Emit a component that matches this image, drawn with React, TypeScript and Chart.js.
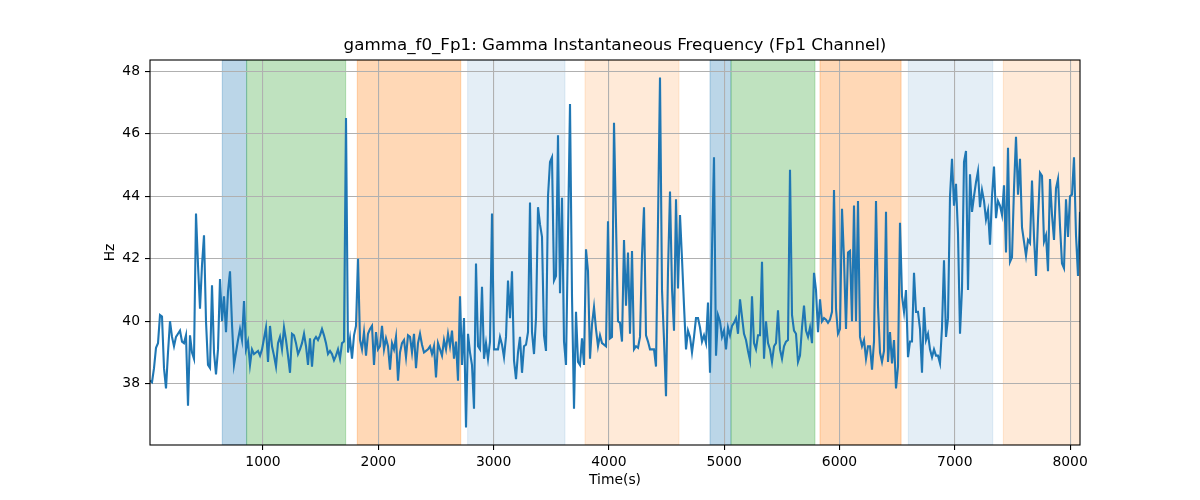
import { useEffect, useRef } from 'react';
import { Chart, registerables } from 'chart.js';

Chart.register(...registerables);

const chartTitle = 'gamma_f0_Fp1: Gamma Instantaneous Frequency (Fp1 Channel)';
const xLabel = 'Time(s)';
const yLabel = 'Hz';

// samples are evenly spaced in time
const timeStart = 20;
const timeStep = 17.346;

const hzPart1 = [
  38.1, 38.05, 38.5, 39.15, 39.3, 40.2, 40.15, 38.5, 37.85, 39.0, 40.0, 39.5, 39.2, 39.5, 39.6, 39.7,
  39.35, 39.3, 39.55, 37.3, 39.55, 39.0, 38.8, 43.45, 41.8, 40.4, 41.8, 42.75, 40.0, 38.6, 38.5, 41.15,
  39.0, 38.3, 39.1, 41.35, 40.0, 40.8, 39.65, 40.95, 41.6, 39.9, 38.6, 39.0, 39.4, 39.75, 39.4, 40.65,
  39.1, 39.35, 38.6, 39.1, 38.95, 39.0, 39.05, 38.9, 39.1, 39.45, 39.8, 38.7, 39.85, 39.2, 38.9, 38.55,
  39.3, 39.5, 39.1, 39.8, 39.4, 38.9, 38.35, 39.6, 39.55, 39.3, 38.95, 39.1, 39.3, 39.6,
];
const hzPart2 = [
  39.2, 38.6, 39.45, 38.55, 39.4, 39.5, 39.4, 39.55, 39.75, 39.55, 39.3, 38.95, 39.05, 38.95, 38.75, 38.9,
  39.1, 38.8, 39.3, 39.35, 46.5, 39.0, 39.45, 38.8, 39.55, 39.85, 42.0, 39.4, 39.1, 39.65, 38.9, 39.6,
  39.75, 39.85, 38.6, 39.65, 39.1, 39.2, 39.85, 39.1, 39.45, 39.2, 38.45, 39.3, 39.1, 39.5, 38.1, 39.0,
  39.3, 39.4, 38.85, 39.55, 39.5, 39.0, 39.6, 38.5, 39.3, 39.6, 39.25, 39.0, 39.05, 39.1, 39.2, 38.95,
  39.2, 38.2, 39.3, 39.1, 38.9, 39.4, 39.1, 39.6, 39.2, 39.7, 38.8, 39.35, 38.1,
];
const hzPart3 = [
  40.8, 38.6, 40.1, 36.6, 39.6, 39.0, 38.6, 37.2, 41.85, 39.2, 39.1, 41.1, 38.8, 39.3, 38.8, 39.35,
  43.45, 39.1, 39.1, 39.1, 39.5, 39.25, 38.85, 39.5, 41.3, 40.1, 41.6, 38.75, 38.15, 39.0, 39.5, 38.35,
  39.2, 39.25, 39.65, 43.8, 39.65, 38.95, 40.1, 43.65, 43.1, 42.7, 39.55, 39.05, 44.0, 45.1, 45.25, 41.3,
  41.45, 45.95, 40.9, 43.95, 39.35, 38.6, 42.75, 46.95, 40.8, 37.2, 40.3, 38.7, 38.6, 39.45, 38.6, 42.3,
  41.6, 38.8, 39.9, 40.45, 39.75, 39.2, 39.55, 39.3, 39.25, 39.2, 43.2, 39.45, 39.5, 46.35,
];
const hzPart4 = [
  43.15, 40.0, 39.95, 39.35, 42.6, 40.5, 42.2, 39.6, 42.25, 39.1, 39.2, 39.15, 39.5, 42.1, 43.65, 39.55,
  39.35, 39.1, 39.1, 39.1, 38.55, 43.15, 47.8, 41.0, 39.4, 37.6, 41.6, 44.15, 41.05, 39.7, 43.9, 41.05,
  43.4, 42.0, 40.5, 39.1, 39.7, 39.5, 39.0, 39.5, 40.1, 40.1, 39.8, 39.35, 39.55, 39.3, 40.6, 38.35,
  42.3, 45.25, 38.9, 40.2, 40.0, 39.5, 39.7, 39.1, 39.8, 39.55, 39.85, 39.95, 40.1, 39.6, 40.7, 40.15,
  39.6, 39.4, 39.05, 38.75, 40.8, 39.3, 39.1, 39.55, 39.55, 41.9, 38.8, 40.0, 39.3,
];
const hzPart5 = [
  39.1, 38.7, 39.2, 39.3, 40.35, 39.1, 38.8, 39.2, 39.35, 39.4, 44.85, 40.2, 39.7, 39.6, 38.7, 38.9,
  39.8, 40.5, 39.7, 39.5, 39.8, 39.3, 41.55, 41.0, 39.65, 40.7, 40.0, 40.1, 40.05, 39.95, 40.05, 40.3,
  44.2, 40.4, 39.6, 39.75, 43.6, 42.0, 39.75, 42.2, 42.25, 40.0, 43.7, 40.0, 43.85, 39.5, 39.2, 39.4,
  38.8, 39.2, 39.2, 38.45, 39.35, 43.85, 40.5, 39.0, 38.7, 39.05, 43.5, 38.7, 39.65, 38.65, 39.4, 37.85,
  38.55, 43.15, 40.8, 40.3, 41.0, 38.85, 39.35, 39.35, 41.55, 40.3, 40.3, 39.75, 38.35, 40.45,
];
const hzPart6 = [
  39.4, 39.6, 39.1, 38.85, 39.1, 38.9, 38.9, 38.65, 39.8, 41.95, 39.5, 40.1, 44.0, 45.2, 43.7, 44.4,
  42.8, 39.6, 41.05, 45.1, 45.45, 41.0, 44.7, 43.5, 44.0, 44.45, 44.8, 43.65, 44.2, 43.85, 43.25, 43.55,
  42.45, 44.0, 44.95, 43.3, 43.85, 43.7, 43.4, 44.35, 42.2, 45.55, 41.9, 42.05, 44.25, 45.9, 44.05, 45.2,
  43.0, 42.55, 42.1, 42.6, 42.5, 44.5, 42.7, 41.45, 43.25, 44.75, 44.65, 42.55, 42.75, 41.6, 44.55, 43.4,
  42.6, 44.25, 44.55, 43.05, 41.85, 41.7, 43.9, 42.7, 44.0, 44.05, 45.25, 42.75, 41.45, 43.5,
];

const frequencyHz = [...hzPart1, ...hzPart2, ...hzPart3, ...hzPart4, ...hzPart5, ...hzPart6];

// shaded intervals (time), and which of the five kinds each one is
const bandStart = [647, 858, 1818, 2775, 3793, 4877, 5059, 5831, 6597, 7421];
const bandEnd = [858, 1717, 2715, 3619, 4608, 5059, 5787, 6534, 7329, 8100];
const bandKind = [0, 1, 2, 3, 4, 0, 1, 2, 3, 4];

const xTickValues = [1000, 2000, 3000, 4000, 5000, 6000, 7000, 8000];
const yTickValues = [38, 40, 42, 44, 46, 48];

const bandFills = [
  'rgba(31, 119, 180, 0.3)',
  'rgba(44, 160, 44, 0.3)',
  'rgba(255, 127, 14, 0.3)',
  'rgba(31, 119, 180, 0.12)',
  'rgba(255, 127, 14, 0.16)',
];

const FONT = 'DejaVu Sans';

const bandsPlugin = {
  id: 'bands',
  beforeDraw(chart: any) {
    const { ctx, chartArea, scales } = chart;
    const x = scales.x;
    ctx.save();
    ctx.beginPath();
    ctx.rect(chartArea.left, chartArea.top, chartArea.right - chartArea.left, chartArea.bottom - chartArea.top);
    ctx.clip();
    bandStart.forEach((start, i) => {
      const x0 = x.getPixelForValue(start);
      const x1 = x.getPixelForValue(bandEnd[i]);
      ctx.fillStyle = bandFills[bandKind[i]];
      ctx.fillRect(x0, chartArea.top, x1 - x0, chartArea.bottom - chartArea.top);
      ctx.strokeStyle = bandFills[bandKind[i]];
      ctx.lineWidth = 1;
      ctx.strokeRect(x0, chartArea.top, x1 - x0, chartArea.bottom - chartArea.top);
    });
    ctx.restore();
  },
};

// frame around the plot and the title centred over the plot area
const framePlugin = {
  id: 'frame',
  afterDatasetsDraw(chart: any) {
    const { ctx, chartArea } = chart;
    ctx.save();
    ctx.strokeStyle = '#000';
    ctx.lineWidth = 1.1;
    ctx.strokeRect(chartArea.left, chartArea.top, chartArea.right - chartArea.left, chartArea.bottom - chartArea.top);
    ctx.fillStyle = '#000';
    ctx.font = `16.7px "${FONT}"`;
    ctx.textAlign = 'center';
    ctx.textBaseline = 'middle';
    ctx.fillText(chartTitle, (chartArea.left + chartArea.right) / 2, chartArea.top - 14);
    ctx.restore();
  },
};

export default function App() {
  const canvasRef = useRef<HTMLCanvasElement>(null);

  useEffect(() => {
    const canvas = canvasRef.current;
    if (!canvas) return;
    const points = frequencyHz.map((v, i) => ({ x: timeStart + i * timeStep, y: v }));
    const chart = new Chart(canvas, {
      type: 'line',
      data: {
        datasets: [{
          data: points,
          borderColor: '#1f77b4',
          borderWidth: 2.1,
          pointRadius: 0,
          tension: 0,
          fill: false,
        }],
      },
      options: {
        animation: false,
        responsive: true,
        maintainAspectRatio: false,
        layout: { padding: { left: 0, right: 120, top: 60, bottom: 0 } },
        plugins: {
          legend: { display: false },
          tooltip: { enabled: false },
          title: { display: false },
        },
        scales: {
          x: {
            type: 'linear',
            min: timeStart,
            max: timeStart + (frequencyHz.length - 1) * timeStep,
            afterBuildTicks: (axis: any) => {
              axis.ticks = xTickValues.map((value) => ({ value }));
            },
            afterFit: (scale: any) => {
              scale.height = 55;
            },
            ticks: {
              color: '#000',
              font: { family: FONT, size: 13.9 },
              padding: 4,
              maxRotation: 0,
              autoSkip: false,
              callback: (v: any) => String(v),
            },
            grid: {
              color: '#b0b0b0',
              lineWidth: 1.1,
              tickColor: '#000',
              tickLength: 5,
            },
            border: { display: false },
            title: {
              display: true,
              text: xLabel,
              color: '#000',
              font: { family: FONT, size: 13.9 },
              padding: { top: 0, bottom: 11 },
            },
          },
          y: {
            type: 'linear',
            min: 36.04,
            max: 48.36,
            afterBuildTicks: (axis: any) => {
              axis.ticks = yTickValues.map((value) => ({ value }));
            },
            afterFit: (scale: any) => {
              scale.width = 150;
            },
            ticks: {
              color: '#000',
              font: { family: FONT, size: 13.9 },
              padding: 5,
              autoSkip: false,
              callback: (v: any) => String(v),
            },
            grid: {
              color: '#b0b0b0',
              lineWidth: 1.1,
              tickColor: '#000',
              tickLength: 5,
            },
            border: { display: false },
            title: {
              display: true,
              text: yLabel,
              color: '#000',
              font: { family: FONT, size: 13.9 },
              padding: { top: 102, bottom: 0 },
            },
          },
        },
      },
      plugins: [bandsPlugin, framePlugin],
    });
    return () => {
      chart.destroy();
    };
  }, []);

  return (
    <div style={{ position: 'absolute', left: 0, top: 0, width: 1200, height: 500, background: '#fff' }}>
      <canvas ref={canvasRef} />
    </div>
  );
}
